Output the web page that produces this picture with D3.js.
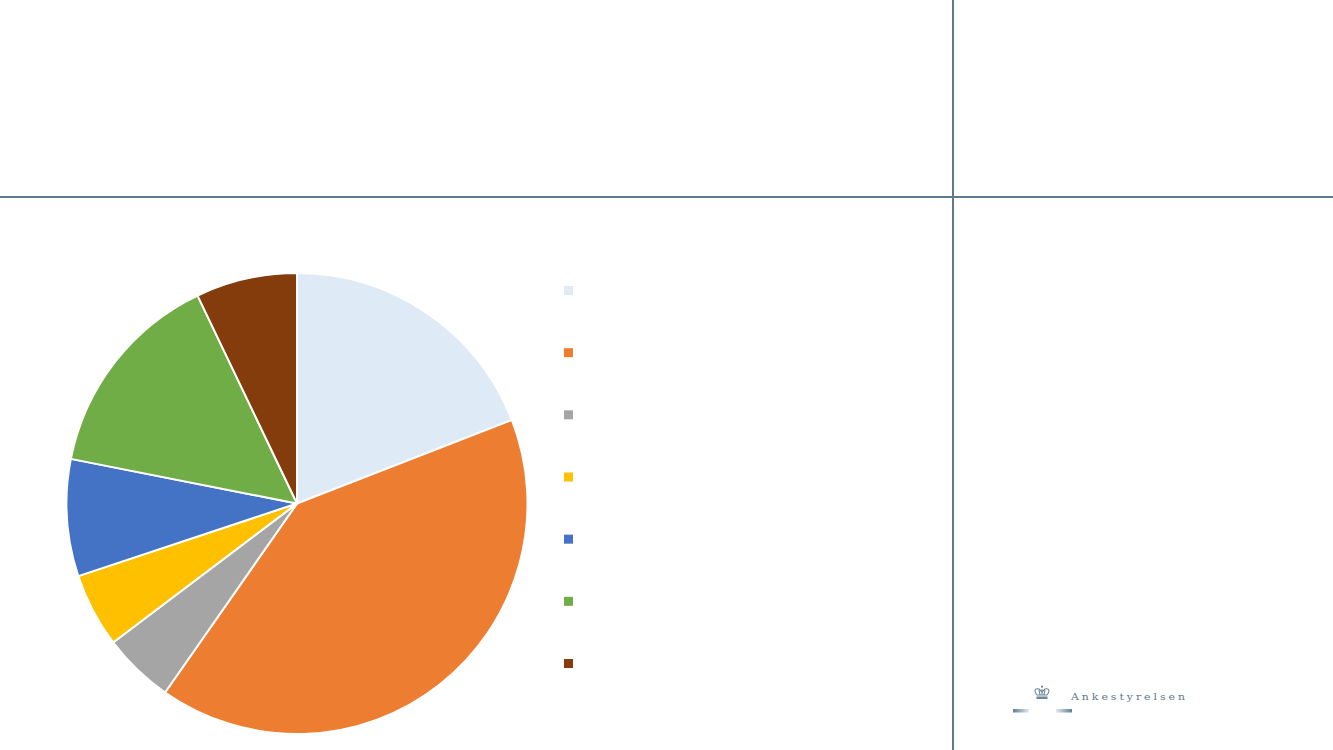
<!DOCTYPE html>
<html><head><meta charset="utf-8">
<script src="https://cdn.jsdelivr.net/npm/d3@7/dist/d3.min.js"></script>
<style>html,body{margin:0;padding:0;background:#fff;overflow:hidden}svg{display:block}</style>
</head><body><svg id="c" width="1333" height="750"></svg>
<script>
const sliceValues = [19.1, 40.6, 5.0, 5.2, 8.2, 14.8, 7.1];
const sliceColors = ["#deeaf6", "#ed7d31", "#a5a5a5", "#ffc000", "#4472c4", "#70ad47", "#843c0c"];
const logoText = "Ankestyrelsen";

const svg = d3.select("#c");
const W = 1333, H = 750, cx = 297, cy = 503.5, R = 230.5;
const frame = "#5d7a8c";

svg.append("line").attr("x1",0).attr("x2",W).attr("y1",197).attr("y2",197).attr("stroke",frame).attr("stroke-width",2);
svg.append("line").attr("x1",953).attr("x2",953).attr("y1",0).attr("y2",H).attr("stroke",frame).attr("stroke-width",2);

const pie = d3.pie().sort(null)(sliceValues);
const arc = d3.arc().innerRadius(0).outerRadius(R);
svg.append("g").attr("transform",`translate(${cx},${cy})`)
  .selectAll("path").data(pie).join("path")
  .attr("d",arc).attr("fill",(d,i)=>sliceColors[i])
  .attr("stroke","#fff").attr("stroke-width",2).attr("stroke-linejoin","round");

const legendY = d3.scalePoint().domain(d3.range(sliceValues.length)).range([290.5,663.5]);
svg.append("g").selectAll("rect").data(sliceColors).join("rect")
  .attr("x",564).attr("y",(d,i)=>legendY(i)-4.5).attr("width",9).attr("height",9).attr("fill",d=>d);

// logo
const defs = svg.append("defs");
const g1 = defs.append("linearGradient").attr("id","gl");
g1.append("stop").attr("offset",0).attr("stop-color","#5f7f90");
g1.append("stop").attr("offset",1).attr("stop-color","#e4eaee");
const g2 = defs.append("linearGradient").attr("id","gr");
g2.append("stop").attr("offset",0).attr("stop-color","#e4eaee");
g2.append("stop").attr("offset",1).attr("stop-color","#5f7f90");
const logo = svg.append("g");
logo.append("rect").attr("x",1013).attr("y",709).attr("width",16).attr("height",3.5).attr("fill","url(#gl)");
logo.append("rect").attr("x",1056).attr("y",709).attr("width",16).attr("height",3.5).attr("fill","url(#gr)");
logo.append("text").attr("x",1071).attr("y",700).attr("font-family","DejaVu Serif")
  .attr("font-size",9.5).attr("textLength",117).attr("lengthAdjust","spacingAndGlyphs")
  .attr("letter-spacing",2.6).attr("fill","#5f7889").text(logoText);
const crown = logo.append("g").attr("fill","none").attr("stroke","#6b8797").attr("stroke-width",1.1);
crown.append("path").attr("d","M1037 695 C1033 690 1036 688 1039 689 L1042 692 L1045 689 C1048 688 1051 690 1047 695 Z");
crown.append("path").attr("d","M1042 689 V695 M1039 690 L1040 695 M1045 690 L1044 695");
crown.append("path").attr("d","M1042 685.5 V688 M1041 686.5 H1043");
crown.append("rect").attr("x",1036.5).attr("y",696.5).attr("width",11).attr("height",2.5).attr("fill","#6b8797").attr("stroke","none");
</script></body></html>
